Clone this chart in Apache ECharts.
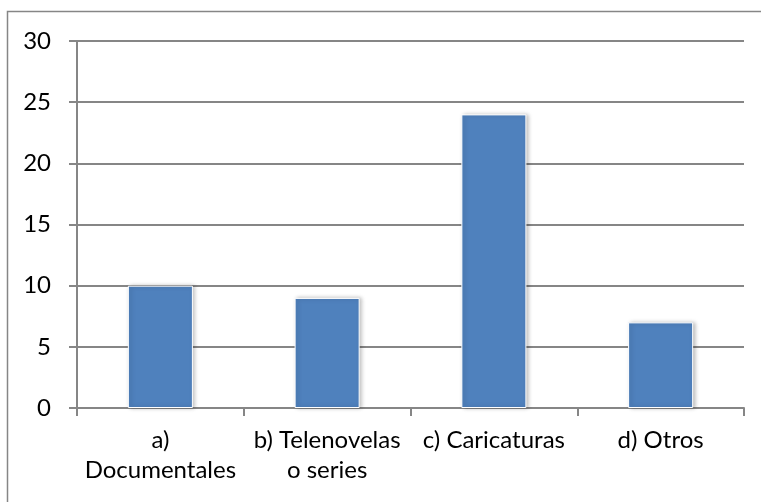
<!DOCTYPE html>
<html>
<head>
<meta charset="utf-8">
<script src="https://cdn.jsdelivr.net/npm/echarts@6/dist/echarts.min.js"></script>
<style>
html, body { margin: 0; padding: 0; background: #fff; }
#main { width: 761px; height: 502px; }
</style>
</head>
<body>
<div id="main"></div>
<script>
// datos del gráfico
var categorias = ['a)\nDocumentales', 'b) Telenovelas\no series', 'c) Caricaturas', 'd) Otros'];
var valores = [10, 9, 24, 7];
var ejeY = { min: 0, max: 30, interval: 5 };

var myChart = echarts.init(document.getElementById('main'));
var option = {
	animation: false,
	textStyle: { fontFamily: 'Lato, "Liberation Sans", sans-serif' },
	graphic: [{
		type: 'rect',
		shape: { x: 7.5, y: 11.5, width: 800, height: 600 },
		style: { fill: 'none', stroke: '#868686', lineWidth: 1.5 },
		silent: true
	}],
	grid: { left: 77, right: 17, top: 41, bottom: 94 },
	xAxis: {
		type: 'category',
		data: categorias,
		axisLine: { lineStyle: { color: '#868686', width: 2 } },
		axisTick: { show: true, length: 8, lineStyle: { color: '#868686', width: 2 } },
		axisLabel: { color: '#000', fontSize: 24, margin: 17, lineHeight: 30, interval: 0 }
	},
	yAxis: {
		type: 'value',
		min: ejeY.min,
		max: ejeY.max,
		interval: ejeY.interval,
		axisLine: { show: true, lineStyle: { color: '#868686', width: 2 } },
		axisTick: { show: true, length: 8, lineStyle: { color: '#868686', width: 2 } },
		axisLabel: { color: '#000', fontSize: 24, margin: 26 },
		splitLine: { lineStyle: { color: '#868686', width: 2 } }
	},
	series: [{
		type: 'bar',
		data: valores,
		barWidth: '39%',
		itemStyle: {
			color: '#4F81BD',
			borderColor: '#fff',
			borderWidth: 1,
			shadowColor: 'rgba(0,0,0,0.25)',
			shadowBlur: 4,
			shadowOffsetX: 2,
			shadowOffsetY: 0
		}
	}]
};
myChart.setOption(option);
</script>
</body>
</html>
